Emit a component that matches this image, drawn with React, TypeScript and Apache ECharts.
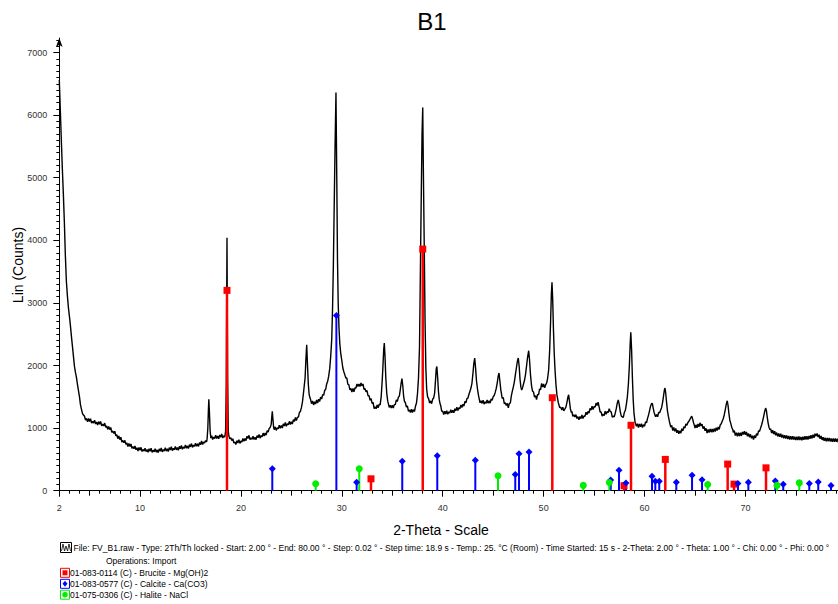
import React, { useEffect, useRef } from "react";
import * as echarts from "echarts";

// ---------- data ----------
const chartTitle = "B1";
const xName = "2-Theta - Scale";
const yName = "Lin (Counts)";

const xLabelValues = [2, 10, 20, 30, 40, 50, 60, 70];
const xMajorTicks = [2, 10, 20, 30, 40, 50, 60, 70, 80];
const xMidTicks = [5, 15, 25, 35, 45, 55, 65, 75];
const yLabelValues = [0, 1000, 2000, 3000, 4000, 5000, 6000, 7000];

// measured scan (2-theta, counts), in four pieces
const scanLow: [number, number][] = [
  [2.0, 6560], [2.1, 6080], [2.2, 5600], [2.3, 5150], [2.4, 4750], [2.5, 4300], [2.6, 3760], [2.7, 3350],
  [2.8, 3120], [2.9, 2930], [3.0, 2790], [3.1, 2640], [3.2, 2470], [3.3, 2310], [3.4, 2150], [3.5, 1990],
  [3.6, 1890], [3.7, 1810], [3.8, 1700], [3.9, 1600], [4.0, 1500], [4.1, 1370], [4.2, 1300], [4.3, 1230],
  [4.4, 1210], [4.5, 1190], [4.6, 1127], [4.7, 1154], [4.8, 1101], [4.9, 1153], [5.0, 1105], [5.1, 1150],
  [5.2, 1080], [5.3, 1110], [5.4, 1080], [5.5, 1125], [5.6, 1066], [5.7, 1097], [5.8, 1048], [5.9, 1104],
  [6.0, 1060], [6.1, 1105], [6.2, 1035], [6.3, 1065], [6.4, 1035], [6.5, 1080], [6.6, 1013], [6.7, 1036],
  [6.8, 979], [6.9, 1027], [7.0, 975], [7.1, 1011], [7.2, 932], [7.3, 953], [7.4, 914], [7.5, 950],
  [7.6, 877], [7.7, 894], [7.8, 831], [7.9, 873], [8.0, 815], [8.1, 854], [8.2, 778], [8.3, 802],
  [8.4, 766], [8.5, 805], [8.6, 739], [8.7, 763], [8.8, 707], [8.9, 756], [9.0, 705], [9.1, 748],
  [9.2, 676], [9.3, 704], [9.4, 672], [9.5, 715], [9.6, 655], [9.7, 685], [9.8, 635], [9.9, 690],
  [10.0, 645], [10.1, 693], [10.2, 626], [10.3, 659], [10.4, 632], [10.5, 680], [10.6, 624], [10.7, 658],
  [10.8, 612], [10.9, 671], [11.0, 630], [11.1, 679], [11.2, 613], [11.3, 647], [11.4, 621], [11.5, 670],
  [11.6, 616], [11.7, 652], [11.8, 608], [11.9, 669], [12.0, 630], [12.1, 682], [12.2, 619], [12.3, 656],
  [12.4, 633], [12.5, 685], [12.6, 632], [12.7, 669], [12.8, 626], [12.9, 688], [13.0, 650], [13.1, 702],
  [13.2, 639], [13.3, 676], [13.4, 653], [13.5, 705], [13.6, 652], [13.7, 689], [13.8, 646], [13.9, 708],
  [14.0, 670], [14.1, 723], [14.2, 661], [14.3, 699], [14.4, 677], [14.5, 730], [14.6, 678], [14.7, 716],
  [14.8, 674], [14.9, 737], [15.0, 700], [15.1, 753], [15.2, 691], [15.3, 729], [15.4, 707], [15.5, 760],
  [15.6, 709], [15.7, 748], [15.8, 707], [15.9, 771], [16.0, 735], [16.1, 793], [16.2, 736], [16.3, 779],
  [16.4, 762], [16.5, 800], [16.6, 780], [16.65, 830], [16.72, 1000], [16.78, 1300], [16.82, 1460], [16.88, 1250],
  [16.95, 950], [17.02, 840],
];

const scanMid: [number, number][] = [
  [17.1, 880], [17.2, 818], [17.3, 856], [17.4, 834], [17.5, 887], [17.6, 835], [17.7, 872], [17.8, 829],
  [17.9, 891], [18.0, 853], [18.1, 905], [18.2, 842], [18.3, 879], [18.4, 856], [18.48, 950], [18.55, 1700],
  [18.62, 4040], [18.68, 1800], [18.75, 950], [18.8, 880], [18.9, 830], [19.0, 845], [19.1, 800], [19.2, 830],
  [19.3, 760], [19.4, 780], [19.5, 737], [19.6, 800], [19.7, 762], [19.8, 815], [19.9, 755], [20.0, 795],
  [20.1, 777], [20.2, 835], [20.3, 790], [20.4, 835], [20.5, 800], [20.6, 870], [20.7, 833], [20.8, 885],
  [20.9, 815], [21.0, 845], [21.1, 820], [21.2, 870], [21.3, 817], [21.4, 855], [21.5, 815], [21.6, 880],
  [21.7, 845], [21.8, 900], [21.9, 840], [22.0, 880], [22.1, 862], [22.2, 920], [22.3, 875], [22.4, 920],
  [22.5, 887], [22.6, 960], [22.7, 935], [22.8, 995], [22.9, 1010], [23.0, 1060], [23.06, 1180], [23.11, 1270],
  [23.17, 1150], [23.24, 1010], [23.3, 975], [23.4, 1020], [23.5, 963], [23.6, 1005], [23.7, 988], [23.8, 1046],
  [23.9, 998], [24.0, 1040], [24.1, 1001], [24.2, 1067], [24.3, 1033], [24.4, 1089], [24.5, 1030], [24.6, 1071],
  [24.7, 1052], [24.8, 1108], [24.9, 1059], [25.0, 1100], [25.1, 1065], [25.2, 1135], [25.3, 1105], [25.4, 1170],
  [25.5, 1120], [25.6, 1175], [25.7, 1175], [25.8, 1250], [25.9, 1270], [26.0, 1330], [26.1, 1420], [26.2, 1560],
  [26.28, 1680], [26.36, 1800], [26.44, 2100], [26.52, 2330], [26.6, 2000], [26.68, 1700], [26.76, 1540], [26.85, 1480],
  [26.9, 1460], [27.0, 1390], [27.1, 1435], [27.2, 1370], [27.3, 1420], [27.4, 1385], [27.5, 1450], [27.6, 1400],
  [27.7, 1460], [27.8, 1425], [27.9, 1495], [28.0, 1465], [28.1, 1535], [28.2, 1525], [28.3, 1600], [28.4, 1620],
  [28.5, 1705], [28.6, 1750], [28.7, 1830], [28.8, 1950], [28.9, 2150], [29.0, 2420], [29.08, 2900], [29.16, 3580],
  [29.25, 4600], [29.33, 5500], [29.42, 6360], [29.5, 5000], [29.57, 3700], [29.64, 3000], [29.72, 2600], [29.8, 2350],
  [29.9, 2180], [30.0, 2080], [30.1, 1960], [30.2, 1900], [30.3, 1850], [30.4, 1800], [30.5, 1800], [30.6, 1700],
  [30.7, 1690], [30.8, 1610], [30.9, 1635], [31.0, 1575], [31.1, 1635], [31.2, 1580], [31.3, 1640], [31.4, 1640],
  [31.5, 1705], [31.6, 1665], [31.7, 1705], [31.8, 1665], [31.9, 1720], [32.0, 1675], [32.1, 1705], [32.2, 1620],
  [32.3, 1630], [32.4, 1580], [32.5, 1600], [32.6, 1515], [32.7, 1520], [32.8, 1445], [32.9, 1470], [33.0, 1395],
  [33.1, 1410], [33.2, 1310], [33.3, 1340], [33.4, 1310], [33.5, 1370], [33.6, 1325], [33.7, 1380], [33.8, 1370],
  [33.9, 1500], [34.0, 1750], [34.08, 2000], [34.15, 2250], [34.21, 2360], [34.28, 2150], [34.36, 1800], [34.45, 1560],
  [34.55, 1430], [34.6, 1400], [34.7, 1330], [34.8, 1365], [34.9, 1320], [35.0, 1365], [35.1, 1320], [35.2, 1375],
  [35.3, 1375], [35.4, 1450], [35.5, 1425], [35.6, 1490], [35.7, 1510], [35.8, 1620], [35.88, 1720], [35.96, 1790],
  [36.04, 1680], [36.12, 1520], [36.2, 1430], [36.3, 1405], [36.4, 1335], [36.5, 1355], [36.6, 1270], [36.7, 1290],
  [36.8, 1250], [36.9, 1302], [37.0, 1250], [37.1, 1295], [37.2, 1265], [37.3, 1350], [37.4, 1400], [37.5, 1550],
  [37.6, 1800], [37.7, 2300], [37.8, 3700], [37.88, 4800], [37.95, 5700], [38.02, 6120], [38.09, 5000], [38.17, 3900],
  [38.25, 2700], [38.33, 1950], [38.41, 1620], [38.5, 1500], [38.6, 1470], [38.7, 1400], [38.8, 1435], [38.9, 1390],
  [39.0, 1460], [39.1, 1480], [39.2, 1560], [39.28, 1750], [39.36, 1950], [39.42, 1985], [39.5, 1800], [39.58, 1580],
  [39.66, 1450], [39.75, 1380], [39.8, 1360], [39.9, 1270],
];

const scanHigh: [number, number][] = [
  [40.0, 1270], [40.1, 1218], [40.2, 1271], [40.3, 1225], [40.4, 1280], [40.5, 1220], [40.6, 1260], [40.7, 1240],
  [40.8, 1295], [40.9, 1245], [41.0, 1285], [41.1, 1245], [41.2, 1310], [41.3, 1275], [41.4, 1335], [41.5, 1280],
  [41.6, 1325], [41.7, 1310], [41.8, 1370], [41.9, 1330], [42.0, 1380], [42.1, 1350], [42.2, 1425], [42.3, 1405],
  [42.4, 1470], [42.5, 1480], [42.6, 1540], [42.7, 1590], [42.8, 1640], [42.9, 1720], [43.0, 1880], [43.08, 2030],
  [43.17, 2120], [43.26, 1950], [43.35, 1750], [43.45, 1620], [43.55, 1520], [43.6, 1480], [43.7, 1405], [43.8, 1435],
  [43.9, 1395], [44.0, 1445], [44.1, 1382], [44.2, 1419], [44.3, 1396], [44.4, 1448], [44.5, 1395], [44.6, 1437],
  [44.7, 1399], [44.8, 1465], [44.9, 1445], [45.0, 1500], [45.1, 1520], [45.2, 1570], [45.3, 1630], [45.4, 1720],
  [45.5, 1830], [45.58, 1880], [45.66, 1760], [45.75, 1620], [45.85, 1520], [45.9, 1475], [46.0, 1490], [46.1, 1390],
  [46.2, 1405], [46.3, 1360], [46.4, 1395], [46.5, 1325], [46.6, 1395], [46.7, 1400], [46.8, 1515], [46.9, 1590],
  [47.0, 1660], [47.1, 1740], [47.2, 1850], [47.3, 1960], [47.4, 2070], [47.49, 2120], [47.58, 1980], [47.66, 1780],
  [47.75, 1650], [47.83, 1610], [47.92, 1650], [48.0, 1700], [48.1, 1760], [48.2, 1850], [48.3, 1980], [48.4, 2120],
  [48.52, 2236], [48.6, 2100], [48.7, 1850], [48.8, 1680], [48.9, 1590], [49.0, 1575], [49.1, 1495], [49.2, 1520],
  [49.3, 1455], [49.4, 1540], [49.5, 1530], [49.6, 1625], [49.7, 1615], [49.8, 1715], [49.9, 1655], [50.0, 1705],
  [50.1, 1645], [50.2, 1690], [50.3, 1720], [50.4, 1800], [50.5, 1930], [50.6, 2250], [50.7, 2750], [50.77, 3150],
  [50.83, 3330], [50.9, 3050], [50.97, 2600], [51.05, 2200], [51.13, 1930], [51.22, 1700], [51.32, 1530], [51.45, 1410],
  [51.5, 1415], [51.6, 1325], [51.7, 1335], [51.8, 1290], [51.9, 1335], [52.0, 1275], [52.1, 1305], [52.2, 1330],
  [52.3, 1400], [52.4, 1490], [52.48, 1533], [52.56, 1430], [52.65, 1310], [52.75, 1250], [52.8, 1265], [52.9, 1189],
  [53.0, 1213], [53.1, 1176], [53.2, 1215], [53.3, 1154], [53.4, 1182], [53.5, 1131], [53.6, 1185], [53.7, 1152],
  [53.8, 1210], [53.9, 1152], [54.0, 1195], [54.1, 1187], [54.2, 1254], [54.3, 1215], [54.4, 1267], [54.5, 1238],
  [54.6, 1315], [54.7, 1287], [54.8, 1350], [54.9, 1297], [55.0, 1345], [55.1, 1335], [55.2, 1400], [55.3, 1360],
  [55.4, 1415], [55.5, 1340], [55.6, 1255], [55.7, 1260], [55.8, 1190], [55.9, 1225], [56.0, 1200], [56.1, 1270],
  [56.2, 1220], [56.3, 1265], [56.4, 1250], [56.5, 1310], [56.6, 1265], [56.7, 1260], [56.8, 1175], [56.9, 1190],
  [57.0, 1180], [57.1, 1240], [57.2, 1310], [57.3, 1400], [57.4, 1450], [57.5, 1370], [57.6, 1260], [57.7, 1190],
  [57.8, 1180], [57.9, 1170], [58.0, 1250], [58.1, 1285], [58.2, 1380], [58.3, 1500], [58.4, 1700], [58.5, 2000],
  [58.58, 2350], [58.64, 2530], [58.72, 2250], [58.8, 1800], [58.88, 1450], [58.96, 1230], [59.06, 1100], [59.2, 1030],
  [59.3, 1070], [59.4, 1010], [59.5, 1065], [59.6, 1020], [59.7, 1070], [59.8, 1010], [59.9, 1055],
];

const scanTail: [number, number][] = [
  [60.0, 1030], [60.1, 1100], [60.2, 1085], [60.3, 1155], [60.4, 1210], [60.5, 1280], [60.6, 1350], [60.7, 1395],
  [60.78, 1390], [60.86, 1320], [60.95, 1250], [61.05, 1200], [61.1, 1180], [61.2, 1215], [61.3, 1180], [61.4, 1250],
  [61.5, 1245], [61.6, 1290], [61.7, 1330], [61.8, 1420], [61.9, 1530], [61.97, 1610], [62.03, 1640], [62.1, 1560],
  [62.18, 1420], [62.27, 1280], [62.36, 1190], [62.46, 1110], [62.6, 1015], [62.7, 1045], [62.8, 960], [62.9, 1010],
  [63.0, 950], [63.1, 995], [63.2, 925], [63.3, 965], [63.4, 910], [63.5, 955], [63.6, 920], [63.7, 990],
  [63.8, 955], [63.9, 1025], [64.0, 1000], [64.1, 1065], [64.2, 1045], [64.3, 1090], [64.4, 1110], [64.5, 1140],
  [64.6, 1170], [64.68, 1190], [64.76, 1150], [64.85, 1090], [64.95, 1040], [65.0, 1000], [65.1, 1052], [65.2, 1004],
  [65.3, 1065], [65.4, 1022], [65.5, 1084], [65.6, 1035], [65.7, 1065], [65.8, 990], [65.9, 1025], [66.0, 958],
  [66.1, 997], [66.2, 920], [66.3, 978], [66.4, 930], [66.5, 988], [66.6, 935], [66.7, 987], [66.8, 935],
  [66.9, 992], [67.0, 945], [67.1, 1007], [67.2, 960], [67.3, 1017], [67.4, 980], [67.5, 1050], [67.6, 1070],
  [67.7, 1110], [67.8, 1150], [67.9, 1210], [68.0, 1290], [68.1, 1380], [68.2, 1437], [68.28, 1360], [68.36, 1240],
  [68.45, 1130], [68.54, 1080], [68.65, 1010], [68.75, 975], [68.8, 930], [68.9, 960], [69.0, 880], [69.1, 927],
  [69.2, 870], [69.3, 927], [69.4, 875], [69.5, 927], [69.6, 875], [69.7, 937], [69.8, 898], [69.9, 950],
  [70.0, 892], [70.1, 938], [70.2, 870], [70.3, 915], [70.4, 855], [70.5, 900], [70.6, 837], [70.7, 878],
  [70.8, 815], [70.9, 882], [71.0, 843], [71.1, 910], [71.2, 885], [71.3, 955], [71.4, 950], [71.5, 1000],
  [71.6, 1050], [71.7, 1110], [71.8, 1180], [71.9, 1260], [72.0, 1320], [72.08, 1280], [72.16, 1180], [72.25, 1080],
  [72.34, 1010], [72.44, 975], [72.5, 990], [72.6, 920], [72.7, 965], [72.8, 905], [72.9, 950], [73.0, 885],
  [73.1, 928], [73.2, 867], [73.3, 915], [73.4, 860], [73.5, 910], [73.6, 850], [73.7, 895], [73.8, 836],
  [73.9, 887], [74.0, 833], [74.1, 884], [74.2, 825], [74.3, 873], [74.4, 816], [74.5, 869], [74.6, 817],
  [74.7, 871], [74.8, 815], [74.9, 864], [75.0, 808], [75.1, 862], [75.2, 811], [75.3, 866], [75.4, 810],
  [75.5, 860], [75.6, 806], [75.7, 862], [75.8, 813], [75.9, 870], [76.0, 816], [76.1, 869], [76.2, 818],
  [76.3, 876], [76.4, 829], [76.5, 887], [76.6, 835], [76.7, 893], [76.8, 846], [76.9, 910], [77.0, 872],
  [77.1, 915], [77.2, 855], [77.3, 895], [77.4, 830], [77.5, 873], [77.6, 811], [77.7, 855], [77.8, 798],
  [77.9, 846], [78.0, 789], [78.1, 842], [78.2, 790], [78.3, 844], [78.4, 787], [78.5, 836], [78.6, 780],
  [78.7, 834], [78.8, 782], [78.9, 836], [79.0, 780], [79.1, 830], [79.2, 774], [79.3, 829], [79.4, 778],
  [79.5, 833], [79.6, 777], [79.7, 827], [79.8, 771], [79.9, 826], [80.0, 780],
];

// reference patterns (2-theta, stick height in counts)
const brucite: [number, number][] = [
  [18.62, 3200], [32.89, 190], [38.02, 3860], [50.86, 1485], [57.97, 80],
  [58.66, 1045], [62.06, 500], [68.24, 425], [68.87, 105], [72.04, 365],
];
const calcite: [number, number][] = [
  [23.11, 350], [29.46, 2800], [31.47, 135], [35.99, 470], [39.46, 560], [43.23, 485],
  [47.19, 260], [47.56, 590], [48.55, 620], [56.65, 170], [57.47, 325], [58.16, 125],
  [60.74, 230], [61.07, 150], [61.46, 150], [63.15, 135], [64.71, 245], [65.7, 175],
  [69.26, 115], [70.29, 135], [72.96, 155], [73.75, 105], [76.33, 115], [77.22, 140], [78.48, 85],
];
const halite: [number, number][] = [
  [27.41, 110], [31.73, 350], [45.48, 240], [53.93, 85], [56.51, 130], [66.26, 100], [73.13, 85], [75.34, 125],
];

const legendFileText =
  "File: FV_B1.raw - Type: 2Th/Th locked - Start: 2.00 \u00b0 - End: 80.00 \u00b0 - Step: 0.02 \u00b0 - Step time: 18.9 s - Temp.: 25. \u00b0C (Room) - Time Started: 15 s - 2-Theta: 2.00 \u00b0 - Theta: 1.00 \u00b0 - Chi: 0.00 \u00b0 - Phi: 0.00 \u00b0";
const legendOpsText = "Operations: Import";
const phaseNames = [
  "01-083-0114 (C) - Brucite - Mg(OH)2",
  "01-083-0577 (C) - Calcite - Ca(CO3)",
  "01-075-0306 (C) - Halite - NaCl",
];

// ---------- styling ----------
const RED = "#ff0000";
const BLUE = "#0000ff";
const GREEN = "#00ee00";
const FONT = "'Liberation Sans', Arial, sans-serif";

const X_MIN = 2;
const X_MAX = 80;
const Y_MAX = 7230;

function yMinorTicks(): number[] {
  const out: number[] = [];
  for (let v = 0; v <= 7200; v += 100) out.push(v);
  return out;
}
function xMinorTicks(): number[] {
  const out: number[] = [];
  for (let v = 2; v <= 80; v += 1) out.push(v);
  return out;
}

function stemSeries(name: string, data: [number, number][], color: string, width: number) {
  return {
    name: name + "-stems",
    type: "custom",
    xAxisIndex: 0,
    yAxisIndex: 0,
    z: 5,
    silent: true,
    data,
    encode: { x: 0, y: 1 },
    renderItem: (_params: any, api: any) => {
      const x = api.value(0);
      const y = api.value(1);
      const p0 = api.coord([x, 0]);
      const p1 = api.coord([x, y]);
      return {
        type: "line",
        shape: { x1: p0[0], y1: p0[1], x2: p1[0], y2: p1[1] },
        style: { stroke: color, lineWidth: width },
      };
    },
  };
}

function markerSeries(name: string, data: [number, number][], color: string, symbol: string, size: number) {
  return {
    name,
    type: "scatter",
    xAxisIndex: 0,
    yAxisIndex: 0,
    z: 6,
    silent: true,
    data,
    symbol,
    symbolSize: size,
    itemStyle: { color, opacity: 1 },
  };
}

export default function App() {
  const ref = useRef<HTMLDivElement>(null);

  useEffect(() => {
    if (!ref.current) return;
    const chart = echarts.init(ref.current, undefined, { renderer: "svg" });

    const gridLeft = 59.3;
    const gridWidth = (X_MAX - X_MIN) * 10.09;
    const gridBottomY = 490.7;
    const gridHeight = Y_MAX * 0.0626;

    const hiddenAxisBase = {
      type: "value",
      min: X_MIN,
      max: X_MAX,
      position: "bottom",
      axisLine: { show: false },
      axisLabel: { show: false },
      splitLine: { show: false },
    };

    const rowY = [547.5, 561, 572.8, 583.8, 594.7];
    const colors = [RED, BLUE, GREEN];
    const iconX = 60;

    const legendGraphics: any[] = [
      { type: "rect", shape: { x: iconX + 0.5, y: 542.5, width: 11, height: 10 }, style: { fill: "none", stroke: "#000", lineWidth: 1 } },
      {
        type: "polyline",
        shape: {
          points: [
            [iconX + 1.5, 551], [iconX + 3, 544], [iconX + 4.5, 551], [iconX + 6, 546],
            [iconX + 7.5, 551], [iconX + 9, 544], [iconX + 10.5, 551],
          ],
        },
        style: { fill: "none", stroke: "#000", lineWidth: 0.8 },
      },
      { type: "text", x: iconX + 13.5, y: rowY[0], style: { text: legendFileText, fontSize: 8.5, fontFamily: FONT, fill: "#000", verticalAlign: "middle", align: "left" } },
      { type: "text", x: iconX + 46, y: rowY[1], style: { text: legendOpsText, fontSize: 8.5, fontFamily: FONT, fill: "#000", verticalAlign: "middle", align: "left" } },
    ];
    phaseNames.forEach((nm, i) => {
      const cy = rowY[i + 2];
      const c = colors[i];
      legendGraphics.push({ type: "rect", shape: { x: iconX + 0.5, y: cy - 4.5, width: 9, height: 9 }, style: { fill: "#fff", stroke: c, lineWidth: 1 } });
      if (i === 0) legendGraphics.push({ type: "rect", shape: { x: iconX + 2.5, y: cy - 2.5, width: 5, height: 5 }, style: { fill: c } });
      if (i === 1)
        legendGraphics.push({
          type: "polygon",
          shape: { points: [[iconX + 5, cy - 3], [iconX + 7.5, cy], [iconX + 5, cy + 3], [iconX + 2.5, cy]] },
          style: { fill: c },
        });
      if (i === 2) legendGraphics.push({ type: "circle", shape: { cx: iconX + 5, cy, r: 2.8 }, style: { fill: c } });
      legendGraphics.push({
        type: "text",
        x: iconX + 10,
        y: cy,
        style: { text: nm, fontSize: 8.5, fontFamily: FONT, fill: "#000", verticalAlign: "middle", align: "left" },
      });
    });

    const option: any = {
      animation: false,
      backgroundColor: "#ffffff",
      grid: {
        left: gridLeft,
        top: gridBottomY - gridHeight,
        width: gridWidth,
        height: gridHeight,
        containLabel: false,
        outerBoundsMode: "none",
      },
      xAxis: [
        {
          type: "value",
          min: X_MIN,
          max: X_MAX,
          position: "bottom",
          axisLine: { show: true, onZero: false, lineStyle: { color: "#000", width: 1 } },
          axisTick: { show: true, customValues: xMajorTicks, length: 6, lineStyle: { color: "#000" } },
          axisLabel: { customValues: xLabelValues, fontSize: 9, fontFamily: FONT, color: "#333", margin: 13 },
          splitLine: { show: false },
        },
        {
          ...hiddenAxisBase,
          axisTick: { show: true, customValues: xMinorTicks(), length: 3, lineStyle: { color: "#000" } },
        },
        {
          ...hiddenAxisBase,
          axisTick: { show: true, customValues: xMidTicks, length: 5, lineStyle: { color: "#000" } },
        },
      ],
      yAxis: [
        {
          type: "value",
          min: 0,
          max: Y_MAX,
          position: "left",
          axisLine: {
            show: true,
            onZero: false,
            lineStyle: { color: "#000", width: 1 },
            symbol: ["none", "arrow"],
            symbolSize: [5, 9],
          },
          axisTick: { show: true, customValues: yLabelValues, length: 6, lineStyle: { color: "#000" } },
          axisLabel: {
            customValues: yLabelValues,
            fontSize: 9,
            fontFamily: FONT,
            color: "#333",
            margin: 12,
            formatter: (v: number) => String(v),
          },
          splitLine: { show: false },
        },
        {
          type: "value",
          min: 0,
          max: Y_MAX,
          position: "left",
          axisLine: { show: false },
          axisLabel: { show: false },
          splitLine: { show: false },
          axisTick: { show: true, customValues: yMinorTicks(), length: 3, lineStyle: { color: "#000" } },
        },
      ],
      series: [
        {
          name: "FV_B1",
          type: "line",
          xAxisIndex: 0,
          yAxisIndex: 0,
          data: [...scanLow, ...scanMid, ...scanHigh, ...scanTail],
          showSymbol: false,
          symbol: "none",
          silent: true,
          z: 2,
          lineStyle: { color: "#000", width: 1.4 },
        },
        stemSeries("Brucite", brucite, RED, 2.5),
        stemSeries("Calcite", calcite, BLUE, 2),
        stemSeries("Halite", halite, GREEN, 2),
        markerSeries("Brucite", brucite, RED, "rect", 7),
        markerSeries("Calcite", calcite, BLUE, "diamond", 7),
        markerSeries("Halite", halite, GREEN, "circle", 7),
      ],
      graphic: [
        {
          type: "text",
          x: 432,
          y: 21,
          style: { text: chartTitle, fontSize: 24, fontFamily: FONT, fill: "#000", align: "center", verticalAlign: "middle" },
        },
        {
          type: "text",
          x: 441,
          y: 530,
          style: { text: xName, fontSize: 14, fontFamily: FONT, fill: "#000", align: "center", verticalAlign: "middle" },
        },
        {
          type: "text",
          x: 18,
          y: 265,
          rotation: Math.PI / 2,
          style: { text: yName, fontSize: 14, fontFamily: FONT, fill: "#000", align: "center", verticalAlign: "middle" },
        },
        ...legendGraphics,
      ],
    };

    chart.setOption(option);
    return () => chart.dispose();
  }, []);

  return (
    <div
      ref={ref}
      style={{ position: "absolute", left: 0, top: 0, width: 838, height: 604, background: "#fff" }}
    />
  );
}
